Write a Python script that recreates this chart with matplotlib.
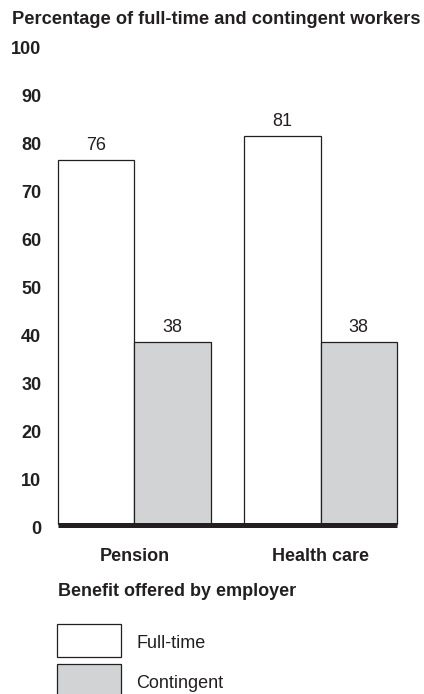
import matplotlib
matplotlib.use("Agg")
import matplotlib.pyplot as plt
import matplotlib.transforms as mtransforms
from matplotlib.patches import Rectangle
import numpy as np

plt.rcParams['font.family'] = ['Liberation Sans', 'DejaVu Sans']

categories = ["Pension", "Health care"]
series_names = ["Full-time", "Contingent"]
full_time = [76, 81]
contingent = [38, 38]
yticks = [0, 10, 20, 30, 40, 50, 60, 70, 80, 90, 100]

W, H = 424, 694
fig = plt.figure(figsize=(W/100, H/100), dpi=100)
EDGE = '#231f20'
GRAY = '#d1d3d4'
FS = 13

def fx(px): return px / W
def fy(py): return 1 - py / H

left, right, top, bottom = 58, 397, 45, 524
ax = fig.add_axes([fx(left), fy(bottom), (right-left)/W, (bottom-top)/H])
w = 0.41
x = np.arange(len(categories))
b1 = ax.bar(x - w/2, full_time, width=w, color='white', edgecolor=EDGE, linewidth=0.9, clip_on=False)
b2 = ax.bar(x + w/2, contingent, width=w, color=GRAY, edgecolor=EDGE, linewidth=0.9, clip_on=False)
ax.set_xlim(-w, len(categories) - 1 + w)
ax.set_ylim(0, 100)
ax.plot([-w, len(categories) - 1 + w], [0, 0], color=EDGE, linewidth=3.6,
        zorder=5, clip_on=False, solid_capstyle='butt',
        transform=ax.transData + mtransforms.ScaledTranslation(0, -1/100, fig.dpi_scale_trans))
for bars, vals in ((b1, full_time), (b2, contingent)):
    for r, v in zip(bars, vals):
        ax.annotate(str(v), (r.get_x() + r.get_width()/2, v), xytext=(0, 4),
                    textcoords='offset points', ha='center', va='bottom',
                    fontsize=FS, color=EDGE)
for s in ax.spines.values():
    s.set_visible(False)
ax.set_yticks(yticks)
ax.set_yticklabels([str(t) for t in yticks], fontsize=FS, fontweight='bold', color=EDGE)
ax.tick_params(axis='y', length=0, pad=12)
off = mtransforms.ScaledTranslation(0, -3/100, fig.dpi_scale_trans)
for lbl in ax.get_yticklabels():
    lbl.set_transform(lbl.get_transform() + off)
ax.set_xticks(x)
ax.set_xticklabels(categories, fontsize=FS, fontweight='bold', color=EDGE)
ax.tick_params(axis='x', length=0, pad=17)

fig.text(fx(12), fy(19), "Percentage of full-time and contingent workers",
         fontsize=13.15, fontweight='bold', color=EDGE, ha='left', va='center')
fig.text(fx(58), fy(592), "Benefit offered by employer",
         fontsize=FS, fontweight='bold', color=EDGE, ha='left', va='center')

# legend
boxes = [(624, 'white'), (664, GRAY)]
for (ytop, col), name in zip(boxes, series_names):
    fig.add_artist(Rectangle((fx(57), fy(ytop + 33)), 64/W, 33/H, transform=fig.transFigure,
                             facecolor=col, edgecolor=EDGE, linewidth=0.9))
    fig.text(fx(136), fy(ytop + 19), name, fontsize=FS, color=EDGE, ha='left', va='center')

fig.savefig("out.png", dpi=100)
